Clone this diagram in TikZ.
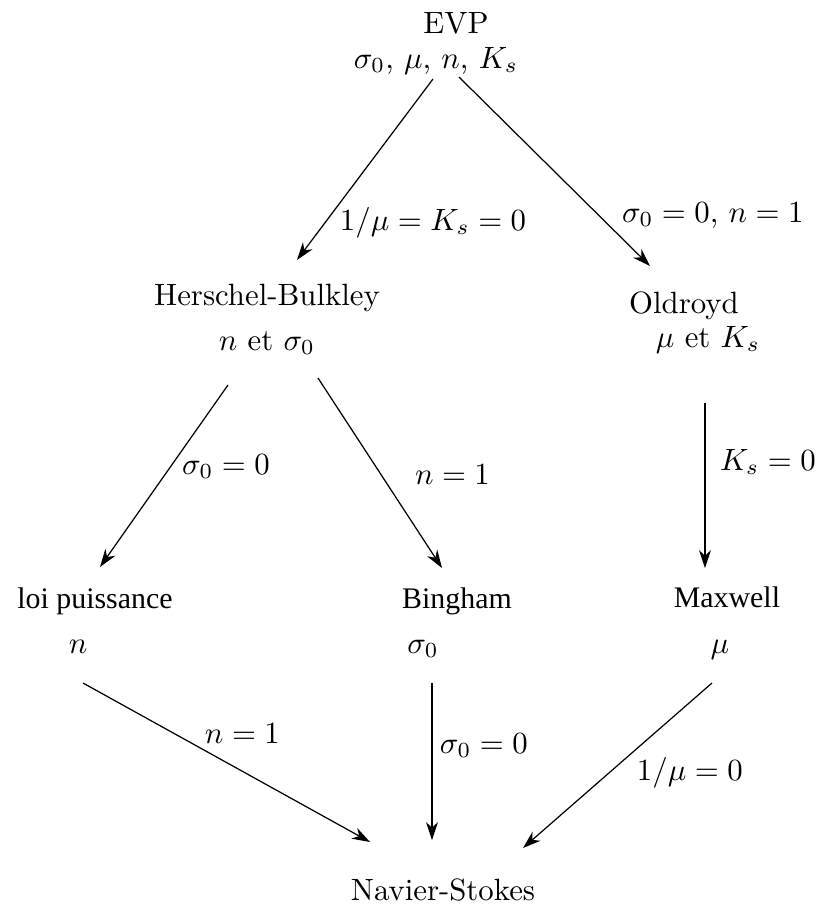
\documentclass[tikz,border=0pt]{standalone}
\usepackage{fontspec}
\newfontfamily\tms{Liberation Serif}
\usetikzlibrary{arrows.meta}
\tikzset{
  x=0.3247pt, y=-0.3247pt,
  txt/.style={anchor=base, inner sep=0pt, outer sep=0pt},
  lbl/.style={anchor=base west, inner sep=0pt, outer sep=0pt},
  tms/.style={txt, font=\tms\fontsize{9.7pt}{12pt}\selectfont},
  arr/.style={line width=0.4pt, -{Stealth[length=5.8pt, width=3.9pt, inset=1.8pt]}}
}
\begin{document}
\begin{tikzpicture}
\useasboundingbox (0,0) rectangle (818,909);
% nodes
\node[txt] (evp) at (456,33) {EVP};
\node[txt] (evpp) at (436,68) {$\sigma_0$, $\mu$, $n$, $K_s$};
\node[txt] (hb) at (267,305) {Herschel-Bulkley};
\node[txt] (hbp) at (267,350) {$n$ et $\sigma_0$};
\node[txt] (old) at (684,313) {Oldroyd};
\node[txt] (oldp) at (708,347) {$\mu$ et $K_s$};
\node[tms] (lp) at (95,608) {loi puissance};
\node[txt] (lpp) at (78,653) {$n$};
\node[tms] (bi) at (457,608) {Bingham};
\node[txt] (bip) at (423,653) {$\sigma_0$};
\node[tms] (mx) at (727,607) {Maxwell};
\node[txt] (mxp) at (720,653) {$\mu$};
\node[txt] (ns) at (443,900) {Navier-Stokes};
% connector end points
\coordinate (a1s) at (433,79);  \coordinate (a1e) at (297,260);
\coordinate (a2s) at (459,77);  \coordinate (a2e) at (650,266);
\coordinate (a3s) at (228,385); \coordinate (a3e) at (100,567);
\coordinate (a4s) at (318,378); \coordinate (a4e) at (442,568);
\coordinate (a5s) at (705,403); \coordinate (a5e) at (705,568);
\coordinate (a6s) at (83,683);  \coordinate (a6e) at (370,842);
\coordinate (a7s) at (432,683); \coordinate (a7e) at (432,840);
\coordinate (a8s) at (712,683); \coordinate (a8e) at (523,848);
% connectors
\draw[arr] (a1s) -- (a1e);
\draw[arr] (a2s) -- (a2e);
\draw[arr] (a3s) -- (a3e);
\draw[arr] (a4s) -- (a4e);
\draw[arr] (a5s) -- (a5e);
\draw[arr] (a6s) -- (a6e);
\draw[arr] (a7s) -- (a7e);
\draw[arr] (a8s) -- (a8e);
% labels
\node[lbl] (l1) at (340,230) {$1/\mu=K_s=0$};
\node[lbl] (l2) at (622,222) {$\sigma_0=0$, $n=1$};
\node[lbl] (l3) at (182,474) {$\sigma_0=0$};
\node[lbl] (l4) at (415,484) {$n=1$};
\node[lbl] (l5) at (720,470) {$K_s=0$};
\node[lbl] (l6) at (205,743) {$n=1$};
\node[lbl] (l7) at (440,753) {$\sigma_0=0$};
\node[lbl] (l8) at (637,780) {$1/\mu=0$};
\end{tikzpicture}
\end{document}
